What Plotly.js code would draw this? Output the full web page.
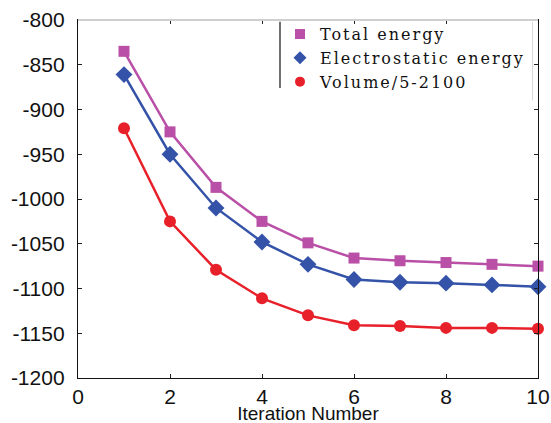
<!DOCTYPE html>
<html>
<head>
<meta charset="utf-8">
<script src="https://cdn.plot.ly/plotly-3.0.1.min.js"></script>
<style>
  html, body { margin: 0; padding: 0; background: #fff; }
  #chart { width: 551px; height: 423px; }
  #chart .legendtext { letter-spacing: 2px; }
  #chart .legend .scrollbox { clip-path: none !important; }
  #chart .g-xtitle { translate: 0px 1px; }
</style>
</head>
<body>
<div id="chart"></div>
<script>
// Iteration index
const iterations = [1, 2, 3, 4, 5, 6, 7, 8, 9, 10];

// Energies per iteration
const totalEnergy = [-835, -925, -987, -1025, -1049, -1066, -1069, -1071, -1073, -1075];
const electrostaticEnergy = [-861, -950, -1010, -1048, -1073, -1090, -1093, -1094, -1096, -1098];
const volumeScaled = [-921, -1025, -1079, -1111, -1130, -1141, -1142, -1144, -1144, -1145];

const seriesNames = ['Total energy', 'Electrostatic energy', 'Volume/5-2100'];
const seriesColors = ['#b94fa6', '#3453a8', '#e8202a'];
const seriesSymbols = ['square', 'diamond', 'circle'];
const seriesSizes = [11, 13, 12];
const seriesData = [totalEnergy, electrostaticEnergy, volumeScaled];

const xTicks = [0, 2, 4, 6, 8, 10];
const yTicks = [-1200, -1150, -1100, -1050, -1000, -950, -900, -850, -800];

const traces = [];
// Data curves (line + markers), legend handled by marker-only entries below
seriesData.forEach((vals, i) => {
  traces.push({
    x: iterations,
    y: vals,
    type: 'scatter',
    mode: 'lines+markers',
    name: seriesNames[i],
    showlegend: false,
    cliponaxis: false,
    line: { color: seriesColors[i], width: 2.5 },
    marker: { color: seriesColors[i], symbol: seriesSymbols[i], size: seriesSizes[i] }
  });
});
// Legend entries showing only the marker symbol
seriesData.forEach((vals, i) => {
  traces.push({
    x: [null],
    y: [null],
    type: 'scatter',
    mode: 'markers',
    name: seriesNames[i],
    showlegend: true,
    marker: { color: seriesColors[i], symbol: seriesSymbols[i], size: 10 }
  });
});

const legendLeft = (280 - 78) / 460;

const layout = {
  width: 551,
  height: 423,
  margin: { l: 78, r: 13, t: 20, b: 45 },
  paper_bgcolor: '#ffffff',
  plot_bgcolor: '#ffffff',
  showlegend: true,
  legend: {
    x: legendLeft,
    y: 1.008,
    xanchor: 'left',
    yanchor: 'top',
    bgcolor: 'rgba(255,255,255,0)',
    borderwidth: 0,
    tracegroupgap: 0,
    font: { family: 'DejaVu Serif, serif', size: 16, color: '#111' }
  },
  xaxis: {
    range: [0, 10],
    tickvals: xTicks,
    ticktext: xTicks.map(String),
    ticks: 'inside',
    ticklen: 4,
    tickwidth: 1,
    tickcolor: '#222',
    showline: true,
    linecolor: '#111',
    linewidth: 1.2,
    mirror: 'ticks',
    showgrid: false,
    zeroline: false,
    ticklabelstandoff: 0,
    tickfont: { family: 'Liberation Sans, Arial, sans-serif', size: 21, color: '#111' },
    automargin: false,
    title: {
      text: 'Iteration Number',
      standoff: 8,
      font: { family: 'Liberation Sans, Arial, sans-serif', size: 19, color: '#111' }
    }
  },
  yaxis: {
    range: [-1200, -800],
    tickvals: yTicks,
    ticktext: yTicks.map(String),
    ticks: 'inside',
    ticklen: 4,
    tickwidth: 1,
    tickcolor: '#222',
    showline: true,
    linecolor: '#111',
    linewidth: 1.2,
    mirror: 'ticks',
    showgrid: false,
    zeroline: false,
    ticklabelstandoff: 8,
    tickfont: { family: 'Liberation Sans, Arial, sans-serif', size: 21, color: '#111' },
    automargin: false
  },
  shapes: [
    // light top border of the frame
    { type: 'line', xref: 'paper', yref: 'paper', x0: 0, x1: 1, y0: 1, y1: 1,
      line: { color: '#cfcfcf', width: 2 }, layer: 'above' },
    // legend box left edge
    { type: 'line', xref: 'paper', yref: 'paper', x0: legendLeft, x1: legendLeft, y0: 0.81, y1: 0.995,
      line: { color: '#111', width: 1.2 }, layer: 'above' },
    // legend box right edge
    { type: 'line', xref: 'paper', yref: 'paper', x0: 0.988, x1: 0.988, y0: 0.775, y1: 0.995,
      line: { color: '#d8d8d8', width: 1 }, layer: 'above' }
  ]
};

Plotly.newPlot('chart', traces, layout, { displayModeBar: false, staticPlot: true });
</script>
</body>
</html>
